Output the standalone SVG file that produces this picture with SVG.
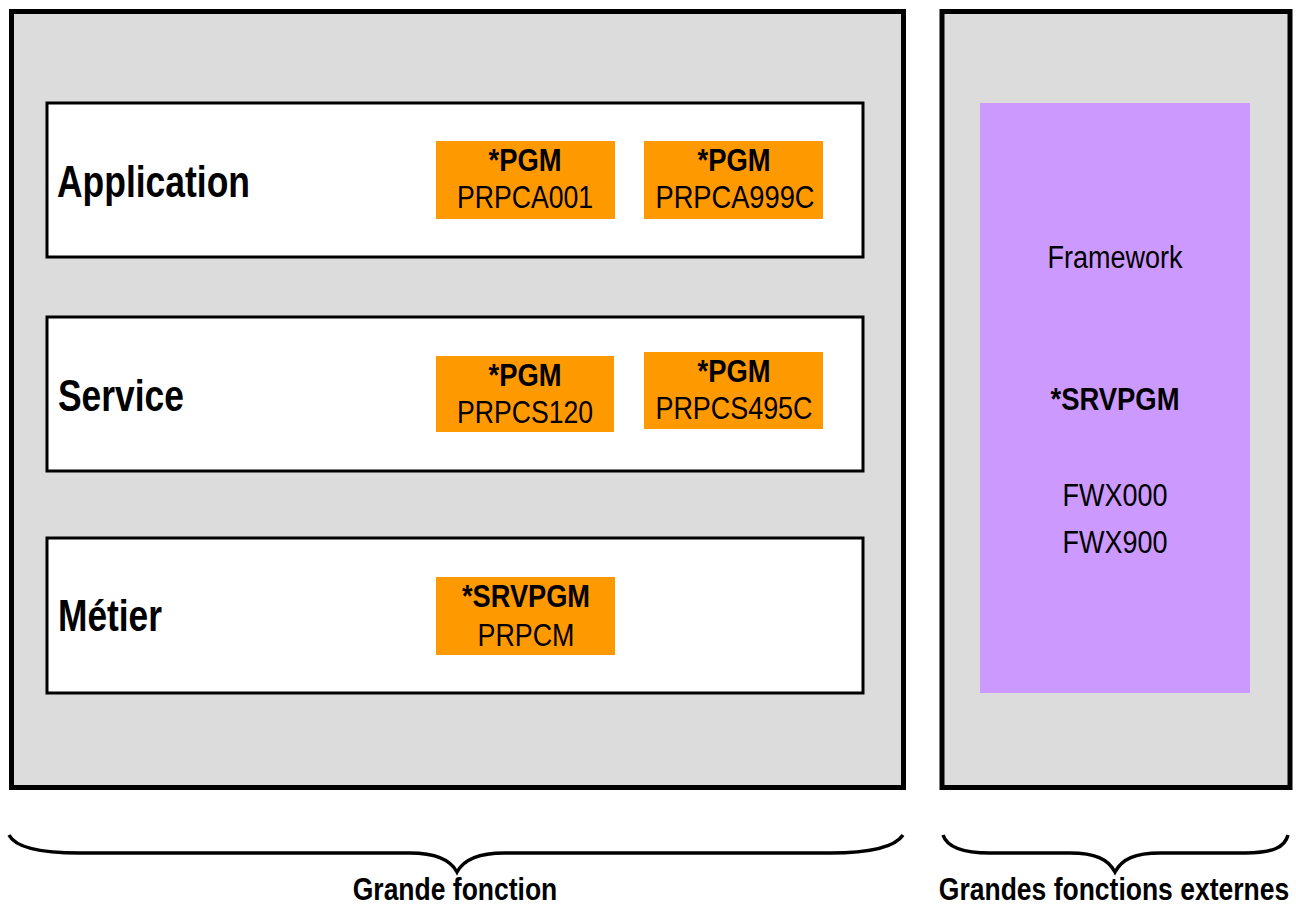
<svg xmlns="http://www.w3.org/2000/svg" width="1296" height="908" viewBox="0 0 1296 908">
<style>
.outer{fill:#dcdcdc;stroke:#000;stroke-width:5}
.layer{fill:#fff;stroke:#000;stroke-width:3}
.pgm{fill:#ff9900}
.fw{fill:#cc99ff}
text{font-family:"Liberation Sans",Arial,sans-serif;fill:#000;text-anchor:middle}
.lbl{font-size:44px;font-weight:bold;text-anchor:start}
.b{font-size:31px;font-weight:bold}
.r{font-size:31px}
.cap{font-size:26.5px;font-weight:bold}
.brace{fill:none;stroke:#000;stroke-width:3.5}
</style>
<rect width="1296" height="908" fill="#fff"/>
<g id="grande-fonction">
<rect class="outer" x="11.5" y="11.5" width="892" height="776"/>
</g>
<g id="externes">
<rect class="outer" x="942" y="11.5" width="348" height="776"/>
</g>
<g id="application">
<rect class="layer" x="47" y="103" width="816" height="154"/>
<text class="lbl" x="57" y="197" textLength="193" lengthAdjust="spacingAndGlyphs">Application</text>
</g>
<g id="service">
<rect class="layer" x="47" y="317" width="816" height="154"/>
<text class="lbl" x="58" y="411" textLength="126" lengthAdjust="spacingAndGlyphs">Service</text>
</g>
<g id="metier">
<rect class="layer" x="47" y="538" width="816" height="155"/>
<text class="lbl" x="58" y="631" textLength="104" lengthAdjust="spacingAndGlyphs">Métier</text>
</g>
<g id="prpca001">
<rect class="pgm" x="436" y="141" width="179" height="78"/>
<text class="b" x="525" y="171" textLength="73" lengthAdjust="spacingAndGlyphs">*PGM</text>
<text class="r" x="525" y="208" textLength="136" lengthAdjust="spacingAndGlyphs">PRPCA001</text>
</g>
<g id="prpca999c">
<rect class="pgm" x="644" y="141" width="179" height="78"/>
<text class="b" x="734" y="171" textLength="73" lengthAdjust="spacingAndGlyphs">*PGM</text>
<text class="r" x="735" y="208" textLength="159" lengthAdjust="spacingAndGlyphs">PRPCA999C</text>
</g>
<g id="prpcs120">
<rect class="pgm" x="436" y="356" width="178" height="76"/>
<text class="b" x="525" y="386" textLength="73" lengthAdjust="spacingAndGlyphs">*PGM</text>
<text class="r" x="525" y="423" textLength="136" lengthAdjust="spacingAndGlyphs">PRPCS120</text>
</g>
<g id="prpcs495c">
<rect class="pgm" x="644" y="352" width="179" height="77"/>
<text class="b" x="734" y="382" textLength="73" lengthAdjust="spacingAndGlyphs">*PGM</text>
<text class="r" x="734" y="419" textLength="157" lengthAdjust="spacingAndGlyphs">PRPCS495C</text>
</g>
<g id="prpcm">
<rect class="pgm" x="436" y="577" width="179" height="78"/>
<text class="b" x="526" y="607" textLength="128" lengthAdjust="spacingAndGlyphs">*SRVPGM</text>
<text class="r" x="526" y="646" textLength="97" lengthAdjust="spacingAndGlyphs">PRPCM</text>
</g>
<g id="framework">
<rect class="fw" x="980" y="103" width="270" height="590"/>
<text class="r" x="1115" y="268" textLength="135" lengthAdjust="spacingAndGlyphs">Framework</text>
<text class="b" x="1115" y="410" textLength="129" lengthAdjust="spacingAndGlyphs">*SRVPGM</text>
<text class="r" x="1115" y="506" textLength="105" lengthAdjust="spacingAndGlyphs">FWX000</text>
<text class="r" x="1115" y="553" textLength="105" lengthAdjust="spacingAndGlyphs">FWX900</text>
</g>
<g id="connectors">
<path class="brace" d="M9,835 C15,847 40,853 80,853 L410,853 C435,853 450,859 457,872 C464,859 479,853 504,853 L830,853 C870,853 895,847 903,835"/>
<path class="brace" d="M943,835 C947,847 962,853 990,853 L1070,853 C1095,853 1108,859 1115,872 C1122,859 1135,853 1160,853 L1245,853 C1273,853 1285,847 1288,835"/>
</g>
<text class="cap" transform="translate(455,900) scale(1,1.15)">Grande fonction</text>
<text class="cap" transform="translate(1114,900) scale(1,1.15)">Grandes fonctions externes</text>
</svg>
